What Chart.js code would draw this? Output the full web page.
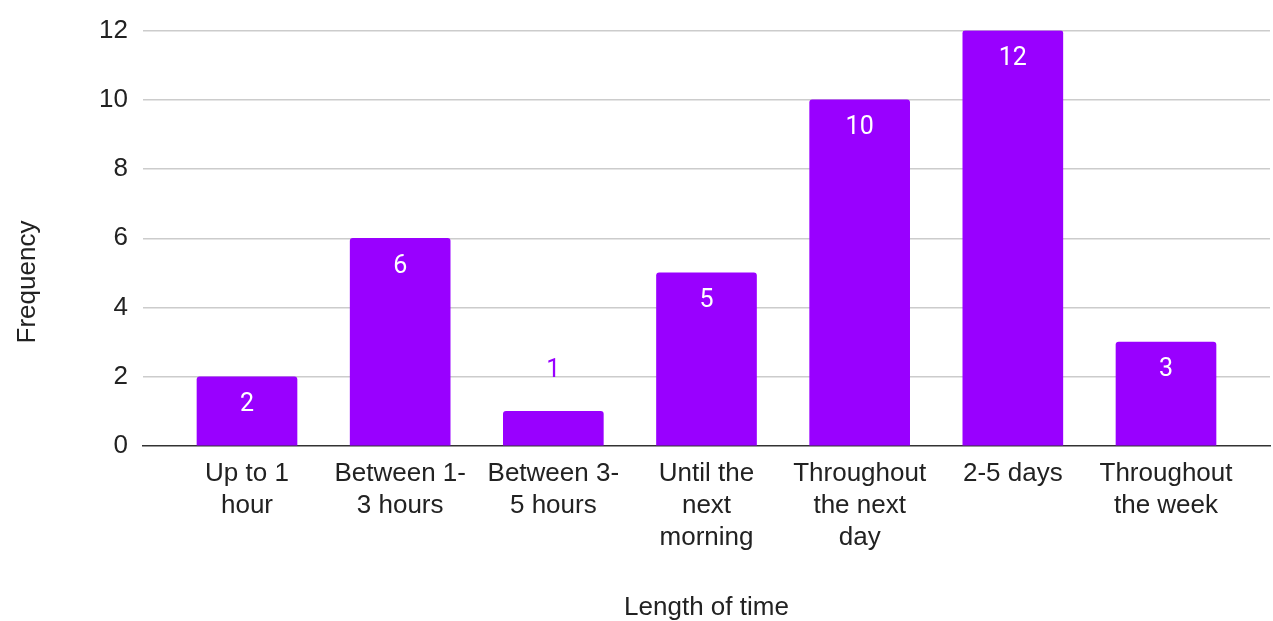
<!DOCTYPE html>
<html>
<head>
<meta charset="utf-8">
<script src="https://cdn.jsdelivr.net/npm/chart.js@4.4.1/dist/chart.umd.min.js"></script>
<style>
  html, body { margin: 0; padding: 0; background: #ffffff; }
  #wrap { width: 1273px; height: 621px; }
</style>
</head>
<body>
<div id="wrap"><canvas id="chart" width="1273" height="621"></canvas></div>
<script>
// Category labels (multi-line), values and axis ticks
const categories = [
  ["Up to 1", "hour"],
  ["Between 1-", "3 hours"],
  ["Between 3-", "5 hours"],
  ["Until the", "next", "morning"],
  ["Throughout", "the next", "day"],
  ["2-5 days"],
  ["Throughout", "the week"]
];
const frequency = [2, 6, 1, 5, 10, 12, 3];
const yTicks = [0, 2, 4, 6, 8, 10, 12];
const xTitle = "Length of time";
const yTitle = "Frequency";

const BAR_COLOR = "#9900ff";
const TEXT_COLOR = "#222222";
const AXIS_FONT = "'Liberation Sans', Arial, sans-serif";
const LABEL_FONT = "Roboto, 'Liberation Sans', sans-serif";

// Value labels: white inside tall bars, purple above short ones
const valueLabels = {
  id: "valueLabels",
  afterDatasetsDraw(chart) {
    const ctx = chart.ctx;
    const meta = chart.getDatasetMeta(0);
    ctx.save();
    ctx.font = "25px " + LABEL_FONT;
    ctx.textAlign = "center";
    ctx.textBaseline = "middle";
    meta.data.forEach((bar, i) => {
      const h = bar.base - bar.y;
      const txt = String(frequency[i]);
      if (h >= 54) {
        ctx.fillStyle = "#ffffff";
        ctx.fillText(txt, bar.x, bar.y + 28);
      } else {
        ctx.fillStyle = BAR_COLOR;
        ctx.fillText(txt, bar.x, bar.y - 41);
      }
    });
    ctx.restore();
  }
};

// Rotated y-axis title
const yAxisTitle = {
  id: "yAxisTitle",
  afterDraw(chart) {
    const ctx = chart.ctx;
    ctx.save();
    ctx.translate(28, 282);
    ctx.rotate(-Math.PI / 2);
    ctx.font = "26px " + AXIS_FONT;
    ctx.fillStyle = TEXT_COLOR;
    ctx.textAlign = "center";
    ctx.textBaseline = "middle";
    ctx.fillText(yTitle, 0, 0);
    ctx.restore();
  }
};

const points = frequency.map((v, i) => ({ x: i, y: v }));
const pad = 0.679;

new Chart(document.getElementById("chart"), {
  type: "bar",
  data: {
    datasets: [{
      data: points,
      backgroundColor: BAR_COLOR,
      borderWidth: 0,
      borderRadius: 3,
      barThickness: 100
    }]
  },
  options: {
    responsive: false,
    animation: false,
    devicePixelRatio: 1,
    layout: { padding: { left: 0, right: 3, top: 27, bottom: 0 } },
    plugins: {
      legend: { display: false },
      tooltip: { enabled: false }
    },
    scales: {
      x: {
        type: "linear",
        offset: false,
        min: -pad,
        max: categories.length - 1 + pad,
        z: 1,
        grid: { display: false, drawTicks: false, offset: false },
        border: { display: true, color: "#333333", width: 1.5 },
        afterBuildTicks(scale) {
          scale.ticks = categories.map((_, i) => ({ value: i }));
        },
        afterFit(scale) { scale.height = 175; },
        ticks: {
          autoSkip: false,
          maxRotation: 0,
          minRotation: 0,
          padding: 12,
          color: TEXT_COLOR,
          font: { family: AXIS_FONT, size: 26, lineHeight: 1.23 },
          callback: (v) => categories[v]
        },
        title: {
          display: true,
          text: xTitle,
          color: TEXT_COLOR,
          padding: { top: 0, bottom: -2 },
          font: { family: AXIS_FONT, size: 26 }
        }
      },
      y: {
        min: yTicks[0],
        max: yTicks[yTicks.length - 1],
        afterBuildTicks(scale) {
          scale.ticks = yTicks.map(v => ({ value: v }));
        },
        afterFit(scale) { scale.width = 143; },
        grid: {
          color: (c) => c.tick && c.tick.value === 0 ? "rgba(0,0,0,0)" : "#cccccc",
          lineWidth: 1.5,
          drawTicks: false
        },
        border: { display: false },
        ticks: {
          padding: 15,
          color: TEXT_COLOR,
          font: { family: AXIS_FONT, size: 26 }
        }
      }
    }
  },
  plugins: [valueLabels, yAxisTitle]
});
</script>
</body>
</html>
